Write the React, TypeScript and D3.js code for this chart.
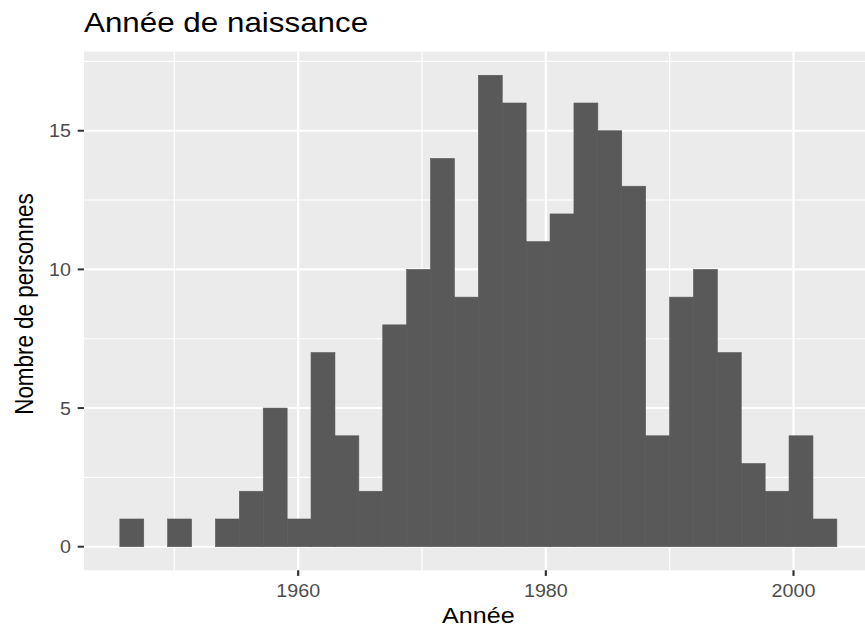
import React from "react"
import * as d3 from "d3"

// ---------- Data ----------
// histogram, 30 bins (ggplot default)
const binCounts = [1, 0, 1, 0, 1, 2, 5, 1, 7, 4, 2, 8, 10, 14, 9, 17, 16, 11, 12, 16, 15, 13, 4, 9, 10, 7, 3, 2, 4, 1]
const binStart = 1945.6
const binWidth = 1.93
const xMajorTicks = [1960, 1980, 2000]
const xMinorTicks = [1950, 1970, 1990]
const yMajorTicks = [0, 5, 10, 15]
const yMinorTicks = [2.5, 7.5, 12.5, 17.5]

const title = "Année de naissance"
const xTitle = "Année"
const yTitle = "Nombre de personnes"

// ---------- Layout ----------
const W = 865
const H = 627
const panel = { left: 84, right: 872.7, top: 51.7, bottom: 570.3 }
const sx = 1.12 // the reference is stretched horizontally a bit
const font = "'Liberation Sans', Arial, Helvetica, sans-serif"

const bins = binCounts.map((count, i) => ({
    x0: binStart + i * binWidth,
    x1: binStart + (i + 1) * binWidth,
    count
}))

export default function App() {
    const xMin = binStart
    const xMax = binStart + binCounts.length * binWidth
    const xPad = (xMax - xMin) * 0.05
    const yMax = d3.max(binCounts) ?? 0
    const yPad = yMax * 0.05

    const x = d3.scaleLinear().domain([xMin - xPad, xMax + xPad]).range([panel.left, panel.right])
    const y = d3.scaleLinear().domain([-yPad, yMax + yPad]).range([panel.bottom, panel.top])

    return (
        <svg
            width={W}
            height={H}
            style={{ position: "absolute", left: 0, top: 0, background: "#fff" }}
        >
            {/* panel */}
            <rect
                x={panel.left}
                y={panel.top}
                width={panel.right - panel.left}
                height={panel.bottom - panel.top}
                fill="#EBEBEB"
            />
            {yMinorTicks.map(t => (
                <line key={"ym" + t} x1={panel.left} x2={panel.right} y1={y(t)} y2={y(t)} stroke="#fff" strokeWidth={1.1} />
            ))}
            {xMinorTicks.map(t => (
                <line key={"xm" + t} x1={x(t)} x2={x(t)} y1={panel.top} y2={panel.bottom} stroke="#fff" strokeWidth={1.2} />
            ))}
            {yMajorTicks.map(t => (
                <line key={"yM" + t} x1={panel.left} x2={panel.right} y1={y(t)} y2={y(t)} stroke="#fff" strokeWidth={2.1} />
            ))}
            {xMajorTicks.map(t => (
                <line key={"xM" + t} x1={x(t)} x2={x(t)} y1={panel.top} y2={panel.bottom} stroke="#fff" strokeWidth={2.3} />
            ))}

            {/* bars - thin stroke of the same colour hides the seams */}
            {bins.filter(b => b.count > 0).map((b, i) => (
                <rect
                    key={i}
                    x={x(b.x0)}
                    y={y(b.count)}
                    width={x(b.x1) - x(b.x0)}
                    height={y(0) - y(b.count)}
                    fill="#595959"
                    stroke="#595959"
                    strokeWidth={0.6}
                />
            ))}

            {/* x axis */}
            {xMajorTicks.map(t => (
                <g key={"xt" + t}>
                    <line x1={x(t)} x2={x(t)} y1={panel.bottom} y2={panel.bottom + 5.6} stroke="#333" strokeWidth={2.2} />
                    <text
                        transform={`translate(${x(t)},596.7) scale(${sx},1)`}
                        textAnchor="middle"
                        fontFamily={font}
                        fontSize={17.6}
                        fill="#4D4D4D"
                    >
                        {t}
                    </text>
                </g>
            ))}

            {/* y axis */}
            {yMajorTicks.map(t => (
                <g key={"yt" + t}>
                    <line x1={panel.left - 6.3} x2={panel.left} y1={y(t)} y2={y(t)} stroke="#333" strokeWidth={2} />
                    <text
                        transform={`translate(71,${y(t) + 6.5}) scale(${sx},1)`}
                        textAnchor="end"
                        fontFamily={font}
                        fontSize={17.6}
                        fill="#4D4D4D"
                    >
                        {t}
                    </text>
                </g>
            ))}

            {/* titles */}
            <text
                transform={`translate(84,32.3) scale(${sx},1)`}
                fontFamily={font}
                fontSize={28}
                fill="#000"
            >
                {title}
            </text>
            <text
                transform={`translate(${(panel.left + panel.right) / 2},623.3) scale(${sx},1)`}
                textAnchor="middle"
                fontFamily={font}
                fontSize={22.4}
                fill="#000"
            >
                {xTitle}
            </text>
            <text
                transform={`translate(33.3,304) scale(${sx},1) rotate(-90)`}
                textAnchor="middle"
                fontFamily={font}
                fontSize={22.4}
                fill="#000"
            >
                {yTitle}
            </text>
        </svg>
    )
}
